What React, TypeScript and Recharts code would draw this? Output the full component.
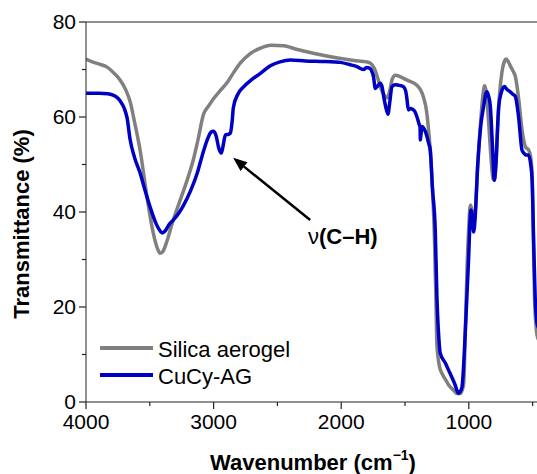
import React from "react";
import { LineChart, Line, XAxis, YAxis, ReferenceLine } from "recharts";

// FTIR spectra, wavenumber (cm-1) descending
const silicaWavenumber = [
  4000, 3950, 3880, 3835, 3780, 3733, 3690, 3654, 3620, 3576, 3521, 3480, 3440, 3419, 3395, 3364, 3320,
  3262, 3210, 3159, 3120, 3080, 3040, 3002, 2950, 2892, 2840, 2790, 2720, 2633, 2550, 2450, 2343, 2200,
  2028, 1900, 1800, 1769, 1740, 1714, 1694, 1660, 1640, 1620, 1600, 1576, 1540, 1480, 1407, 1357, 1330,
  1318, 1302, 1285, 1270, 1258, 1250, 1230, 1210, 1180, 1158, 1120, 1093, 1067, 1050, 1040, 1027, 1014,
  1000, 988, 975, 962, 950, 930, 910, 890, 876, 862, 845, 825, 810, 800, 790, 775, 760, 740, 720, 708,
  690, 670, 650, 635, 610, 583, 565, 555, 530, 515, 504, 494, 485, 470, 460, 450,
];
const silicaT = [
  72.2, 71.6, 71.0, 70.5, 69.2, 67.8, 65.8, 63.2, 59, 53, 43, 36.5, 32.3, 31.3, 31.8, 34, 38,
  42.5, 46.5, 51, 55.5, 60.5, 62.3, 63.8, 65.5, 67.3, 69.5, 71.4, 73.2, 74.5, 75.1, 75.0, 74.2, 73.3,
  72.4, 71.9, 71.6, 71.3, 70.2, 68.2, 66.4, 64.5, 64, 65.5, 68.0, 68.8, 68.5, 67.7, 66.7, 64.3, 61,
  58, 53, 45, 35, 22, 12, 7.5, 6, 4.6, 3.6, 2.5, 1.8, 1.8, 2.7, 3.9, 15.5, 28,
  37, 41.5, 40, 37, 40, 50, 58, 64.5, 66.6, 65, 59, 51, 47, 46.7, 49, 57, 64.5, 69.5, 71.8, 72.2,
  71.6, 70.5, 69.5, 68.5, 64, 57.3, 54.5, 53.7, 53, 51.5, 48, 34, 22, 15, 13.5, 13,
];

const cucyWavenumber = [
  4000, 3900, 3830, 3788, 3760, 3733, 3700, 3678, 3654, 3620, 3576, 3540, 3497, 3450, 3419, 3403, 3380,
  3350, 3317, 3280, 3238, 3180, 3128, 3090, 3050, 3020, 3002, 2980, 2960, 2940, 2925, 2908, 2880, 2869,
  2855, 2845, 2810, 2767, 2700, 2633, 2555, 2480, 2398, 2280, 2162, 2050, 2008, 1930, 1877, 1826, 1800,
  1773, 1760, 1747, 1733, 1715, 1694, 1680, 1667, 1650, 1634, 1620, 1602, 1575, 1553, 1514, 1495, 1484,
  1474, 1455, 1435, 1420, 1406, 1390, 1382, 1380, 1376, 1367, 1350, 1328, 1315, 1302, 1285, 1263, 1250,
  1235, 1224, 1184, 1150, 1110, 1080, 1065, 1053, 1040, 1027, 1001, 990, 983, 972, 962, 950, 930, 905,
  884, 868, 857, 845, 831, 815, 800, 788, 766, 745, 722, 700, 675, 655, 635, 610, 583, 565, 555, 533,
  515, 504, 492, 480, 470, 460, 450,
];
const cucyT = [
  65.0, 65.0, 64.9, 64.6, 64.2, 63.4, 61.8, 59.8, 55.2, 51.5, 48.2, 44.8, 41, 37.5, 36.0, 35.6, 36,
  37.3, 38.3, 39.5, 41.3, 44.5, 48.2, 51.8, 55.2, 56.8, 57, 56, 53.5, 52.4, 54, 56.2, 56.4, 56.6,
  59, 62, 64.8, 66.3, 67.9, 69.2, 70.8, 71.6, 72, 71.8, 71.7, 71.6, 71.5, 71, 70.6, 70.0, 70.4,
  70.2, 69.6, 68.5, 66, 66.5, 67.1, 66.4, 64.3, 62, 60.6, 63, 66.4, 66.8, 66.7, 66.4, 65.5, 63.6,
  61.5, 61.8, 61.5, 61, 60, 58.5, 57.8, 55.2, 56, 58, 57.5, 55.9, 54.5, 53, 45, 36.2, 22.2,
  13.5, 10.3, 8.2, 6.2, 3.8, 1.8, 2.3, 3.2, 8, 15.2, 30.6, 38.5, 40.4, 38.5, 35.8, 39, 50, 58.5,
  62.2, 64.8, 65.3, 64.4, 62.2, 54, 46.7, 50, 62.2, 65.2, 66.4, 65.8, 65.3, 64.8, 64.3, 60, 53, 52.3, 52, 52,
  50, 46.7, 34, 22, 17.5, 16, 15.5,
];

const xMajorTicks = [4000, 3000, 2000, 1000];
const xAllTicks = [4000, 3500, 3000, 2500, 2000, 1500, 1000, 500];
const yMajorTicks = [0, 20, 40, 60, 80];
const yAllTicks = [0, 10, 20, 30, 40, 50, 60, 70, 80];

const silicaData = silicaWavenumber.map((w, i) => ({ w, t: silicaT[i] }));
const cucyData = cucyWavenumber.map((w, i) => ({ w, t: cucyT[i] }));

const FONT = "'Liberation Sans', Arial, sans-serif";
const AXIS = "#222";
const GREY = "#808080";
const BLUE = "#0000c4";

const BottomTick = (props: any) => {
  const { x, y, payload } = props;
  const major = xMajorTicks.includes(payload.value);
  const len = major ? 7 : 4;
  return (
    <g>
      <line x1={x} y1={y} x2={x} y2={y + len} stroke={AXIS} strokeWidth={1.2} />
      {major && (
        <text x={x} y={y + len + 5} dy="0.71em" textAnchor="middle" fontSize={21} fill="#000" fontFamily={FONT}>
          {payload.value}
        </text>
      )}
    </g>
  );
};

const LeftTick = (props: any) => {
  const { x, y, payload } = props;
  const major = yMajorTicks.includes(payload.value);
  const len = major ? 7 : 4;
  return (
    <g>
      <line x1={x} y1={y} x2={x - len} y2={y} stroke={AXIS} strokeWidth={1.2} />
      {major && (
        <text x={x - len - 3} y={y} dy="0.355em" textAnchor="end" fontSize={21} fill="#000" fontFamily={FONT}>
          {payload.value}
        </text>
      )}
    </g>
  );
};

const TopTick = (props: any) => {
  const { x, y } = props;
  return <line x1={x} y1={y} x2={x} y2={y + 5} stroke={AXIS} strokeWidth={1.2} />;
};

const RightTick = (props: any) => {
  const { x, y } = props;
  return <line x1={x} y1={y} x2={x - 5} y2={y} stroke={AXIS} strokeWidth={1.2} />;
};

const Arrow = (props: any) => {
  const { x1, y1, x2, y2 } = props;
  const dx = x2 - x1;
  const dy = y2 - y1;
  const len = Math.sqrt(dx * dx + dy * dy);
  const ux = dx / len;
  const uy = dy / len;
  const hl = 14;
  const hw = 5.5;
  const bx = x2 - ux * hl;
  const by = y2 - uy * hl;
  return (
    <g>
      <line x1={x1} y1={y1} x2={bx} y2={by} stroke="#000" strokeWidth={2.5} />
      <polygon
        points={`${x2},${y2} ${bx - uy * hw},${by + ux * hw} ${bx + uy * hw},${by - ux * hw}`}
        fill="#000"
      />
    </g>
  );
};

export default function App() {
  return (
    <div
      style={{
        position: "fixed",
        left: 0,
        top: 0,
        width: 537,
        height: 474,
        overflow: "hidden",
        background: "#fff",
        fontFamily: FONT,
      }}
    >
      <LineChart width={545} height={474} margin={{ top: 22, right: 6, bottom: 71, left: 85 }}>
        <XAxis
          dataKey="w"
          type="number"
          domain={[450, 4000]}
          reversed
          allowDataOverflow
          ticks={xAllTicks}
          interval={0}
          tickLine={false}
          tickSize={0}
          tickMargin={0}
          height={1}
          stroke={AXIS}
          tick={BottomTick}
        />
        <XAxis
          xAxisId="top"
          orientation="top"
          mirror
          type="number"
          domain={[450, 4000]}
          reversed
          allowDataOverflow
          ticks={xAllTicks}
          interval={0}
          tickLine={false}
          tickSize={0}
          tickMargin={0}
          height={1}
          stroke={AXIS}
          tick={TopTick}
        />
        <YAxis
          type="number"
          domain={[0, 80]}
          allowDataOverflow
          ticks={yAllTicks}
          interval={0}
          tickLine={false}
          tickSize={0}
          tickMargin={0}
          width={1}
          stroke={AXIS}
          tick={LeftTick}
        />
        <YAxis
          yAxisId="right"
          orientation="right"
          mirror
          type="number"
          domain={[0, 80]}
          ticks={yAllTicks}
          interval={0}
          tickLine={false}
          tickSize={0}
          tickMargin={0}
          width={1}
          stroke={AXIS}
          tick={RightTick}
        />
        <Line
          data={silicaData}
          dataKey="t"
          type="monotone"
          stroke={GREY}
          strokeWidth={3.5}
          dot={false}
          isAnimationActive={false}
        />
        <Line
          data={cucyData}
          dataKey="t"
          type="monotone"
          stroke={BLUE}
          strokeWidth={3.5}
          dot={false}
          isAnimationActive={false}
        />
        <ReferenceLine
          segment={[
            { x: 2243, y: 38.3 },
            { x: 2847, y: 51.4 },
          ]}
          shape={Arrow}
        />
      </LineChart>

      <svg
        width={537}
        height={474}
        style={{ position: "absolute", left: 0, top: 0, pointerEvents: "none" }}
        fontFamily={FONT}
      >
        <text
          x={21}
          y={224}
          transform="rotate(-90 21 224)"
          textAnchor="middle"
          dominantBaseline="central"
          fontSize={22}
          fontWeight="bold"
        >
          Transmittance (%)
        </text>
        <text x={313} y={470} textAnchor="middle" fontSize={22} fontWeight="bold">
          Wavenumber (cm
          <tspan fontSize={14} dy={-10}>
            −1
          </tspan>
          <tspan dy={10}>)</tspan>
        </text>
        <text x={308} y={244} fontSize={22}>
          <tspan>ν</tspan>
          <tspan fontWeight="bold">(C–H)</tspan>
        </text>
        <line x1={100} y1={348} x2={153} y2={348} stroke={GREY} strokeWidth={4} />
        <text x={158} y={349} dominantBaseline="central" fontSize={22}>
          Silica aerogel
        </text>
        <line x1={100} y1={375} x2={153} y2={375} stroke={BLUE} strokeWidth={4} />
        <text x={158} y={376} dominantBaseline="central" fontSize={22}>
          CuCy-AG
        </text>
      </svg>
    </div>
  );
}
